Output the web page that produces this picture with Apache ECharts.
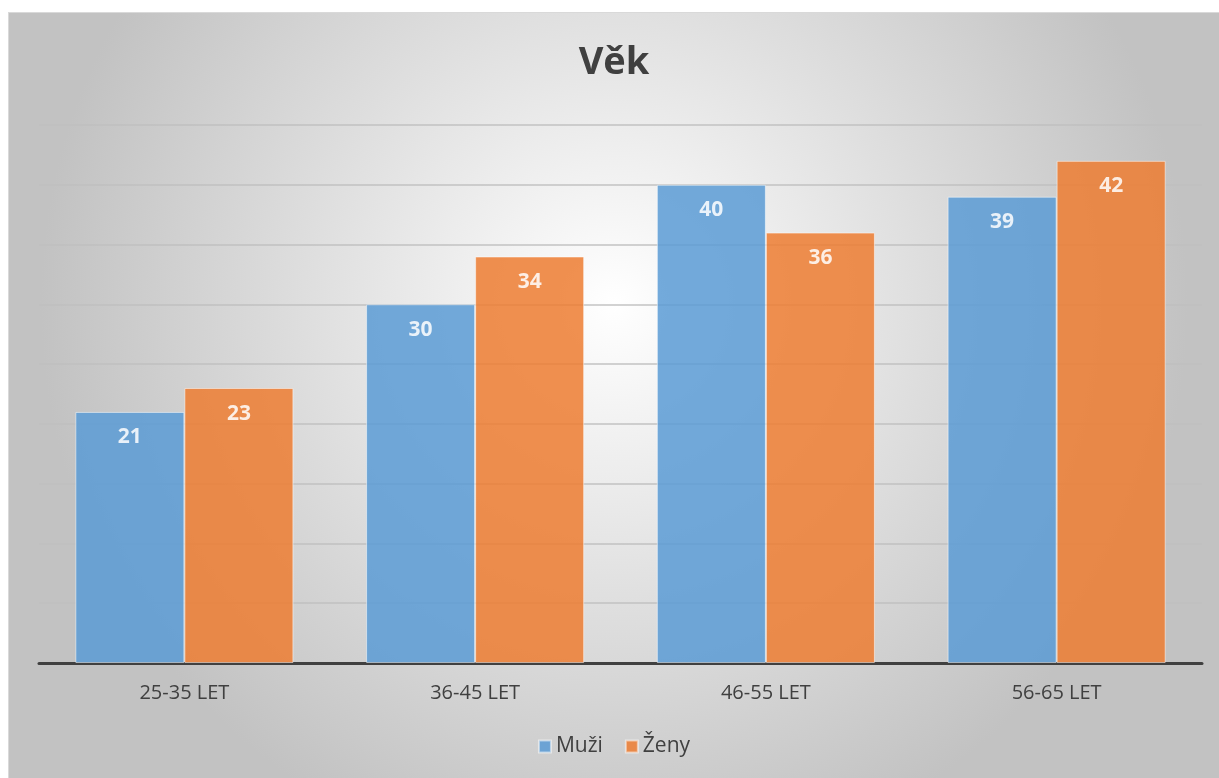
<!DOCTYPE html>
<html>
<head>
<meta charset="utf-8">
<script src="https://cdn.jsdelivr.net/npm/echarts@6/dist/echarts.min.js"></script>
<style>
  html, body { margin: 0; padding: 0; background: #fff; }
  #chart { position: absolute; left: 8px; top: 12px; width: 1211px; height: 766px;
           border-top: 1px solid #d9d9d9; border-left: 1px solid #d9d9d9; box-sizing: border-box; }
</style>
</head>
<body>
<div id="chart"></div>
<script>
// data
var categories = ['25-35 LET', '36-45 LET', '46-55 LET', '56-65 LET'];
var muzi = [21, 30, 40, 39];
var zeny = [23, 34, 36, 42];

var chart = echarts.init(document.getElementById('chart'));

var labelStyle = {
  show: true,
  position: 'insideTop',
  distance: 15,
  color: '#fff',
  fontSize: 21,
  fontWeight: 'bold',
  fontFamily: 'Open Sans'
};

var option = {
  backgroundColor: {
    type: 'radial', x: 0.5, y: 0.38, r: 0.75,
    colorStops: [
      { offset: 0, color: '#ffffff' },
      { offset: 1, color: '#c2c2c2' }
    ]
  },
  title: {
    text: 'Věk',
    left: 'center',
    top: 26,
    textStyle: { fontSize: 38, fontWeight: 'bold', color: '#404040', fontFamily: 'Open Sans' }
  },
  legend: {
    data: ['Muži', 'Ženy'],
    bottom: 16,
    left: 'center',
    icon: 'rect',
    itemWidth: 12,
    itemHeight: 12,
    itemGap: 22,
    textStyle: { fontSize: 21, color: '#404040', fontFamily: 'Open Sans' }
  },
  grid: { left: 30, right: 17, top: 112, bottom: 115 },
  xAxis: {
    type: 'category',
    data: categories,
    axisLine: { lineStyle: { color: '#404040', width: 3 } },
    axisTick: { show: false },
    axisLabel: { fontSize: 20, color: '#404040', margin: 20, fontFamily: 'Open Sans' }
  },
  yAxis: {
    type: 'value',
    min: 0,
    max: 45,
    interval: 5,
    axisLabel: { show: false },
    axisLine: { show: false },
    axisTick: { show: false },
    splitLine: { lineStyle: { color: '#bfbfbf', width: 2, opacity: 0.7 } }
  },
  series: [{
    name: 'Muži',
    type: 'bar',
    data: muzi,
    barGap: '0%',
    barCategoryGap: '25%',
    itemStyle: { color: '#5b9bd5', opacity: 0.85, borderColor: 'rgba(255,255,255,0.6)', borderWidth: 1 },
    label: labelStyle
  }, {
    name: 'Ženy',
    type: 'bar',
    data: zeny,
    itemStyle: { color: '#ed7d31', opacity: 0.85, borderColor: 'rgba(255,255,255,0.6)', borderWidth: 1 },
    label: labelStyle
  }]
};

chart.setOption(option);
</script>
</body>
</html>
